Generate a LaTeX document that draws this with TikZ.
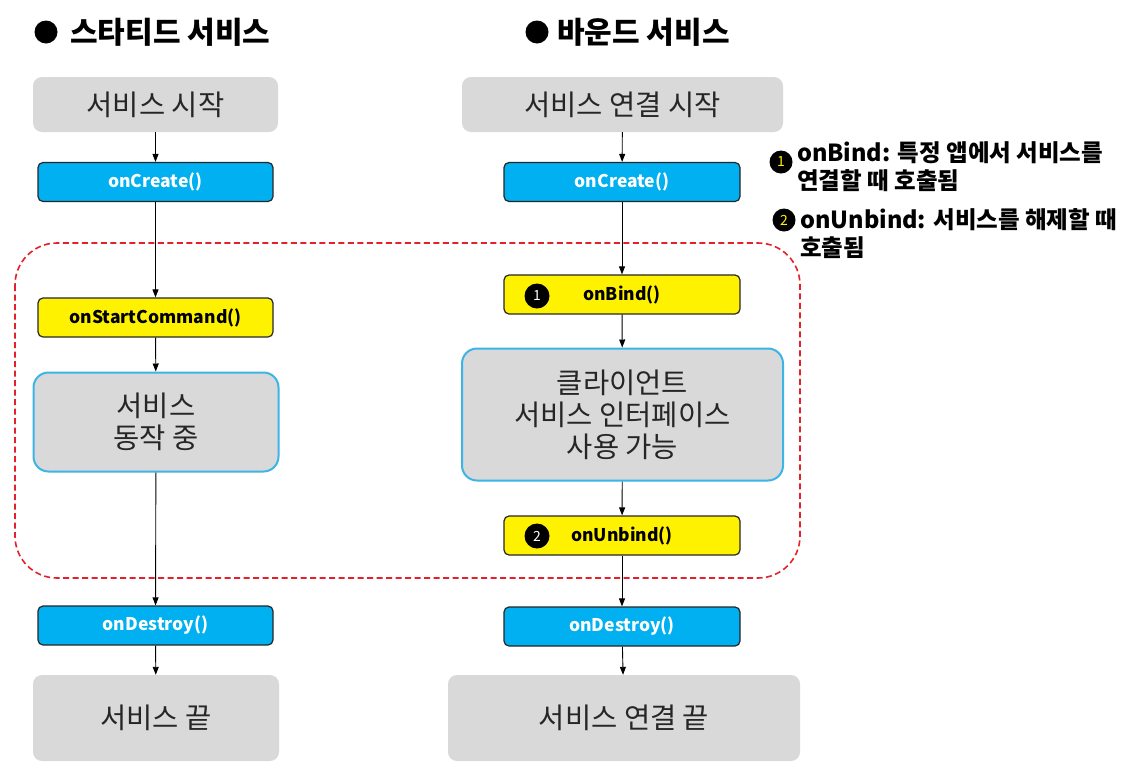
\documentclass[tikz,border=0pt]{standalone}
\usepackage{fontspec}
\setmainfont{Noto Sans CJK KR}
\usetikzlibrary{arrows.meta}
\definecolor{boxgray}{HTML}{D9D9D9}
\definecolor{cblue}{HTML}{00B0F0}
\definecolor{lblue}{HTML}{3CB4E6}
\definecolor{dred}{HTML}{E4202A}
\definecolor{txt}{HTML}{262626}
\begin{document}
\begin{tikzpicture}[x=1pt,y=-1pt,
  graybox/.style={fill=boxgray,rounded corners=9pt,text=txt,font=\fontsize{28.5}{32}\selectfont,align=center,inner sep=0pt},
  bluebox/.style={fill=cblue,draw=black!85,line width=1.2pt,rounded corners=5pt,text=white,font=\bfseries\fontsize{17.5}{20}\selectfont,minimum width=235pt,minimum height=39pt,inner sep=0pt},
  yelbox/.style={fill=yellow,draw=black!85,line width=1.2pt,rounded corners=5pt,text=black,font=\bfseries\fontsize{17.5}{20}\selectfont,minimum width=235pt,minimum height=39pt,inner sep=0pt},
  statebox/.style={fill=boxgray,draw=lblue,line width=2pt,rounded corners=15pt,text=txt,font=\fontsize{28.5}{32}\selectfont,align=center,inner sep=0pt},
  numc/.style={circle,fill=black,inner sep=0pt,minimum size=25pt,font=\fontsize{14}{14}\selectfont},
  flow/.style={-{Triangle[length=8pt,width=6pt]},line width=0.9pt,black},
  title/.style={font=\bfseries\fontsize{30}{34}\selectfont,anchor=west,inner sep=0pt},
  note/.style={font=\bfseries\fontsize{23.5}{28}\selectfont,anchor=north west,align=left,inner sep=0pt}
]
\useasboundingbox[fill=white] (0,0) rectangle (1140,769);

% dashed region
\draw[dred,line width=1.6pt,dash pattern=on 6pt off 3.5pt,rounded corners=42pt] (15,243) rectangle (800,578);

% titles
\fill (46,32) circle (11.5pt);
\node[title] (t1) at (70,32) {스타티드 서비스};
\fill (537,32) circle (11.5pt);
\node[title] (t2) at (557,32) {바운드 서비스};

% left column
\node[graybox,minimum width=245pt,minimum height=55pt] (ls) at (155.5,104.5) {서비스 시작};
\node[bluebox] (lc) at (155.5,182) {onCreate()};
\node[yelbox] (lsc) at (155.5,317.5) {onStartCommand()};
\node[statebox,minimum width=245pt,minimum height=99pt] (lr) at (156,422) {서비스\\동작 중};
\node[bluebox] (ld) at (155.5,625.5) {onDestroy()};
\node[graybox,minimum width=246pt,minimum height=86pt] (le) at (156,718) {서비스 끝};

\draw[flow] (ls) -- (lc);
\draw[flow] (lc) -- (lsc);
\draw[flow] (lsc) -- (lr);
\draw[flow] (lr) -- (ld);
\draw[flow] (ld) -- (le);

% right column
\node[graybox,minimum width=321pt,minimum height=55pt] (rs) at (622.5,104.5) {서비스 연결 시작};
\node[bluebox,minimum width=236pt] (rc) at (622,182) {onCreate()};
\node[yelbox,minimum width=236pt] (rb) at (622,294.5) {onBind()};
\node[numc,text=white] (n1) at (537,296) {1};
\node[statebox,minimum width=321pt,minimum height=132pt] (rr) at (622.5,414.5) {클라이언트\\서비스 인터페이스\\사용 가능};
\node[yelbox,minimum width=236pt] (ru) at (622,535.5) {onUnbind()};
\node[numc,text=white] (n2) at (537,536) {2};
\node[bluebox,minimum width=236pt] (rd) at (622,626.5) {onDestroy()};
\node[graybox,minimum width=352pt,minimum height=86pt] (re) at (624,718) {서비스 연결 끝};

\draw[flow] (rs) -- (rc);
\draw[flow] (rc) -- (rb);
\draw[flow] (rb) -- (rr);
\draw[flow] (rr) -- (ru);
\draw[flow] (ru) -- (rd);
\draw[flow] (rd) -- (re);

% notes
\node[numc,text=yellow,minimum size=23pt] (a1) at (781,162) {1};
\node[note] (na) at (797,141) {onBind: 특정 앱에서 서비스를\\연결할 때 호출됨};
\node[numc,text=yellow,minimum size=23pt] (a2) at (784,220) {2};
\node[note] (nb) at (800,208) {onUnbind: 서비스를 해제할 때\\호출됨};
\end{tikzpicture}
\end{document}
